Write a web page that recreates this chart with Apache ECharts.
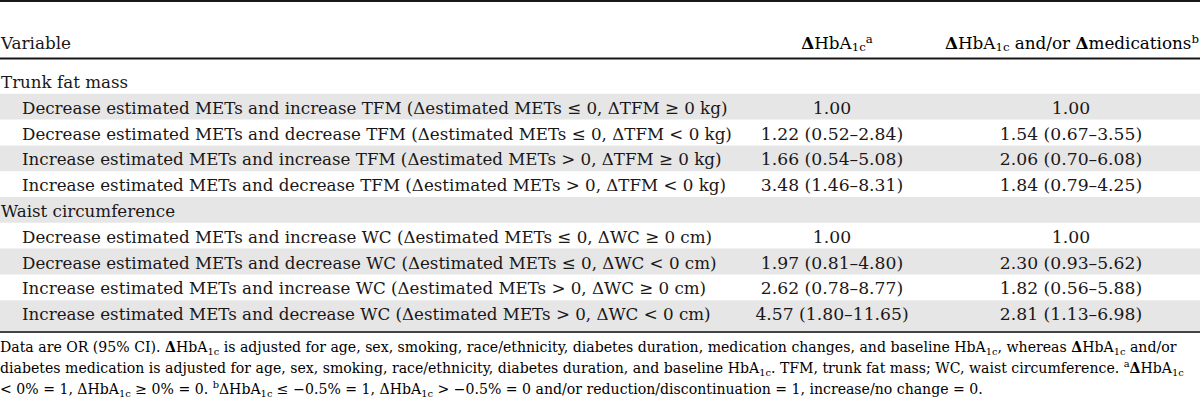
<!DOCTYPE html>
<html>
<head>
<meta charset="utf-8">
<script src="https://cdn.jsdelivr.net/npm/echarts@6/dist/echarts.min.js"></script>
<style>
  html, body { margin: 0; padding: 0; background: #fff; }
  #charts { width: 1200px; height: 405px; }
</style>
</head>
<body>
<div id="charts"></div>
<script>
// 行标签（分组标题 + 条件）
const rowLabels = [
  'Trunk fat mass',
  'Decrease estimated METs and increase TFM (Δestimated METs ≤ 0, ΔTFM ≥ 0 kg)',
  'Decrease estimated METs and decrease TFM (Δestimated METs ≤ 0, ΔTFM < 0 kg)',
  'Increase estimated METs and increase TFM (Δestimated METs > 0, ΔTFM ≥ 0 kg)',
  'Increase estimated METs and decrease TFM (Δestimated METs > 0, ΔTFM < 0 kg)',
  'Waist circumference',
  'Decrease estimated METs and increase WC (Δestimated METs ≤ 0, ΔWC ≥ 0 cm)',
  'Decrease estimated METs and decrease WC (Δestimated METs ≤ 0, ΔWC < 0 cm)',
  'Increase estimated METs and increase WC (Δestimated METs > 0, ΔWC ≥ 0 cm)',
  'Increase estimated METs and decrease WC (Δestimated METs > 0, ΔWC < 0 cm)'
]
const sectionRows = ['Trunk fat mass', 'Waist circumference']

// ΔHbA1c: OR, 95% CI
const hba1cOR = [null, 1.00, 1.22, 1.66, 3.48, null, 1.00, 1.97, 2.62, 4.57]
const hba1cLow = [null, null, 0.52, 0.54, 1.46, null, null, 0.81, 0.78, 1.80]
const hba1cHigh = [null, null, 2.84, 5.08, 8.31, null, null, 4.80, 8.77, 11.65]

// ΔHbA1c and/or Δmedications: OR, 95% CI
const medOR = [null, 1.00, 1.54, 2.06, 1.84, null, 1.00, 2.30, 1.82, 2.81]
const medLow = [null, null, 0.67, 0.70, 0.79, null, null, 0.93, 0.56, 1.13]
const medHigh = [null, null, 3.55, 6.08, 4.25, null, null, 5.62, 5.88, 6.98]

const FONT = '"DejaVu Serif", "Liberation Serif", serif'
const INK = '#1a1718'
const SIZE = 16.7 // 行标签
const NUM = 17.2 // 数值
const HEAD = 16.8 // 表头
const NOTE = 14.1 // 注释

function fmt (or, lo, hi) {
  if (or == null) return ''
  if (lo == null) return or.toFixed(2)
  return or.toFixed(2) + ' (' + lo.toFixed(2) + '–' + hi.toFixed(2) + ')'
}

// 富文本：下标、上标、粗体Δ
function richStyle (fs) {
  return {
    n: { fontSize: fs, fontFamily: FONT, color: INK, lineHeight: fs + 4 },
    d: { fontSize: fs, fontFamily: FONT, color: INK, fontWeight: 'bold', lineHeight: fs + 4 },
    s: { fontSize: fs * 0.7, fontFamily: FONT, color: INK, lineHeight: fs * 0.7, verticalAlign: 'bottom' },
    p: { fontSize: fs * 0.7, fontFamily: FONT, color: INK, lineHeight: fs * 0.7, verticalAlign: 'top' }
  }
}
const HBA = '{d|Δ}{n|HbA}{s|1c}'

const chartDom = document.getElementById('charts')
const charts = echarts.init(chartDom, null, { renderer: 'svg' })

const option = {
  animation: false,
  grid: { left: 0, right: 0, top: 69, height: 258 },
  xAxis: { type: 'value', min: 0, max: 1200, show: false },
  yAxis: { type: 'category', data: rowLabels, inverse: true, show: false },
  series: [{
    type: 'custom',
    silent: true,
    data: rowLabels.map((l, i) => [i]),
    encode: { y: 0 },
    renderItem: function (params, api) {
      const i = api.value(0)
      const cs = params.coordSys
      const c = api.coord([0, i])
      const h = api.size([0, 1])[1]
      const children = []
      if (i % 2 === 1) {
        // 斑马纹
        const top = c[1] - h / 2 - 1
        const bottom = i === rowLabels.length - 1 ? cs.y + cs.height + 4 : c[1] + h / 2 - 1
        children.push({
          type: 'rect',
          shape: { x: cs.x, y: top, width: cs.width, height: bottom - top },
          style: { fill: '#e6e6e6' }
        })
      }
      const isSection = sectionRows.indexOf(rowLabels[i]) >= 0
      children.push({
        type: 'text',
        x: cs.x + (isSection ? 1 : 22),
        y: c[1],
        style: { text: rowLabels[i], font: SIZE + 'px ' + FONT, fill: INK, align: 'left', verticalAlign: 'middle' }
      })
      children.push({
        type: 'text',
        x: api.coord([832, i])[0],
        y: c[1],
        style: { text: fmt(hba1cOR[i], hba1cLow[i], hba1cHigh[i]), font: NUM + 'px ' + FONT, fill: INK, align: 'center', verticalAlign: 'middle' }
      })
      children.push({
        type: 'text',
        x: api.coord([1071, i])[0],
        y: c[1],
        style: { text: fmt(medOR[i], medLow[i], medHigh[i]), font: NUM + 'px ' + FONT, fill: INK, align: 'center', verticalAlign: 'middle' }
      })
      return { type: 'group', children: children }
    }
  }],
  graphic: [
    // 表格横线
    { type: 'line', shape: { x1: 0, y1: 1, x2: 1200, y2: 1 }, style: { stroke: INK, lineWidth: 2 } },
    { type: 'line', shape: { x1: 0, y1: 58.5, x2: 1200, y2: 58.5 }, style: { stroke: INK, lineWidth: 2 } },
    { type: 'line', shape: { x1: 0, y1: 332, x2: 1200, y2: 332 }, style: { stroke: '#444', lineWidth: 2 } },
    // 表头
    { type: 'text', x: 1, y: 43, style: { text: 'Variable', font: HEAD + 'px ' + FONT, fill: INK, verticalAlign: 'middle' } },
    { type: 'text', x: 837, y: 43, style: { text: HBA + '{p|a}', rich: richStyle(HEAD), align: 'center', verticalAlign: 'middle' } },
    { type: 'text', x: 1199, y: 43, style: { text: HBA + '{n| and/or }{d|Δ}{n|medications}{p|b}', rich: richStyle(HEAD), align: 'right', verticalAlign: 'middle' } },
    // 注释
    {
      type: 'text', x: 0, y: 347,
      style: {
        text: '{n|Data are OR (95% CI). }' + HBA + '{n| is adjusted for age, sex, smoking, race/ethnicity, diabetes duration, medication changes, and baseline HbA}{s|1c}{n|, whereas }' + HBA + '{n| and/or}',
        rich: richStyle(NOTE), verticalAlign: 'middle'
      }
    },
    {
      type: 'text', x: 0, y: 368,
      style: {
        text: '{n|diabetes medication is adjusted for age, sex, smoking, race/ethnicity, diabetes duration, and baseline HbA}{s|1c}{n|. TFM, trunk fat mass; WC, waist circumference. }{p|a}' + HBA,
        rich: richStyle(NOTE), verticalAlign: 'middle'
      }
    },
    {
      type: 'text', x: 0, y: 389,
      style: {
        text: '{n|< 0% = 1, Δ}{n|HbA}{s|1c}{n| ≥ 0% = 0. }{p|b}{n|ΔHbA}{s|1c}{n| ≤ −0.5% = 1, ΔHbA}{s|1c}{n| > −0.5% = 0 and/or reduction/discontinuation = 1, increase/no change = 0.}',
        rich: richStyle(NOTE), verticalAlign: 'middle'
      }
    }
  ]
}
charts.setOption(option, true)
</script>
</body>
</html>
